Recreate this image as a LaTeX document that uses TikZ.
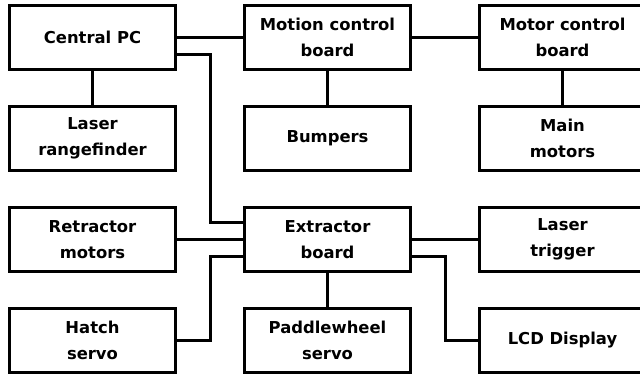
\documentclass[tikz,border=0pt]{standalone}
\usepackage{fontspec}
\setmainfont{DejaVu Sans}
\usepackage{tikz}
\usetikzlibrary{positioning}

\begin{document}
\begin{tikzpicture}[
    node distance=34pt and 66pt,
    unit/.style={rectangle, draw=black, line width=3pt, fill=white,
                 minimum width=166pt, minimum height=64pt, inner sep=2pt,
                 align=center, font=\bfseries\fontsize{16.4}{26}\selectfont},
    wire/.style={line width=3pt, draw=black},
]
\useasboundingbox (0,0) rectangle (640pt,-376pt);
\node[unit] (pc) at (92.5pt,-37.5pt) {Central PC};
\node[unit, right=of pc] (motion) {Motion control\\board};
\node[unit, right=of motion] (motor) {Motor control\\board};
\node[unit, below=of pc] (laser) {Laser\\rangefinder};
\node[unit, below=of motion] (bump) {Bumpers};
\node[unit, below=of motor] (mains) {Main\\motors};
\node[unit, below=of laser] (retr) {Retractor\\motors};
\node[unit, below=of bump] (extr) {Extractor\\board};
\node[unit, below=of mains] (trig) {Laser\\trigger};
\node[unit, below=of retr] (hatch) {Hatch\\servo};
\node[unit, below=of extr] (paddle) {Paddlewheel\\servo};
\node[unit, below=of trig] (lcd) {LCD Display};

\draw[wire] (pc) -- (motion);
\draw[wire] (motion) -- (motor);
\draw[wire] (pc) -- (laser);
\draw[wire] (motion) -- (bump);
\draw[wire] (motor) -- (mains);
\draw[wire] (retr) -- (extr);
\draw[wire] (extr) -- (trig);
\draw[wire] (extr) -- (paddle);
\draw[wire] ([yshift=-17pt]pc.east) -- ++(33pt,0) |- ([yshift=17pt]extr.west);
\draw[wire] (hatch.east) -- ++(33pt,0) |- ([yshift=-17pt]extr.west);
\draw[wire] ([yshift=-17pt]extr.east) -- ++(33pt,0) |- (lcd.west);
\end{tikzpicture}
\end{document}
